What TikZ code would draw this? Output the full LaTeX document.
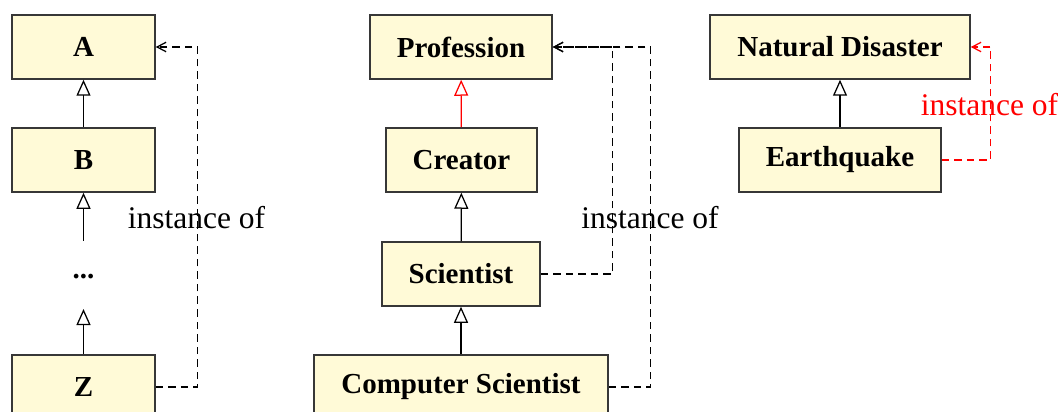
\documentclass[tikz,border=0pt]{standalone}
\usepackage{fontspec}
\setmainfont{Liberation Serif}
\usetikzlibrary{arrows.meta,positioning}
\definecolor{Cream}{RGB}{255,250,215}
\definecolor{Frame}{RGB}{55,55,55}
\definecolor{Alert}{RGB}{255,0,0}

\tikzset{
  cls/.style={draw=Frame, fill=Cream, line width=0.6pt, inner sep=0pt,
    minimum height=25.6pt, font=\fontsize{11.6}{14}\selectfont\bfseries},
  isa/.style={line width=0.5pt, -{Triangle[open,length=6.4pt,width=5.6pt]}},
  inst/.style={line width=0.5pt, dash pattern=on 3pt off 2pt,
    -{Straight Barb[length=3.6pt,width=3.8pt]}},
  lbl/.style={font=\fontsize{12.6}{15}\selectfont, inner sep=0pt}
}

\begin{document}
\begin{tikzpicture}[x=0.4pt, y=-0.4pt]
  \useasboundingbox (0,0) rectangle (1064,412);

  % abstract chain
  \node[cls, minimum width=57.2pt] (A) at (83.5,47) {A};
  \node[cls, minimum width=57.2pt] (B) at (83.5,160) {B};
  \node[font=\fontsize{11.6}{14}\selectfont\bfseries, inner sep=0pt, minimum height=26.8pt] (dots) at (83.5,275) {\smash{\raisebox{-1.5pt}{...}}};
  \node[cls, minimum width=57.2pt] (Z) at (83.5,387) {Z};
  \draw[isa] (B) -- (A);
  \draw[isa] (dots) -- (B);
  \draw[isa] (Z) -- (dots);
  \draw[inst] (Z.east) -- ++(42,0) |- (A.east);
  \node[lbl] (instA) at (196.5,218) {instance of};

  % professions
  \node[cls, minimum width=72.8pt] (prof) at (461,47) {Profession};
  \node[cls, minimum width=60.4pt] (creator) at (461.5,160) {Creator};
  \node[cls, minimum width=63.2pt] (sci) at (461,274) {Scientist};
  \node[cls, minimum width=117.6pt] (cs) at (461,387) {Computer Scientist};
  \draw[isa, Alert] (creator) -- (prof);
  \draw[isa] (sci) -- (creator);
  \draw[isa] (cs) -- (sci);
  \draw[inst] (sci.east) -- ++(72,0) |- (prof.east);
  \draw[inst] (cs.east) -- ++(42,0) |- (prof.east);
  \node[lbl] (instP) at (650,218) {instance of};

  % disasters
  \node[cls, minimum width=104pt] (nd) at (840,47) {Natural Disaster};
  \node[cls, minimum width=80.8pt] (quake) at (840,160) {Earthquake};
  \draw[isa] (quake) -- (nd);
  \draw[inst, Alert] (quake.east) -- ++(49,0) |- (nd.east);
  \node[lbl, text=Alert] (instN) at (989.5,105) {instance of};
\end{tikzpicture}
\end{document}
